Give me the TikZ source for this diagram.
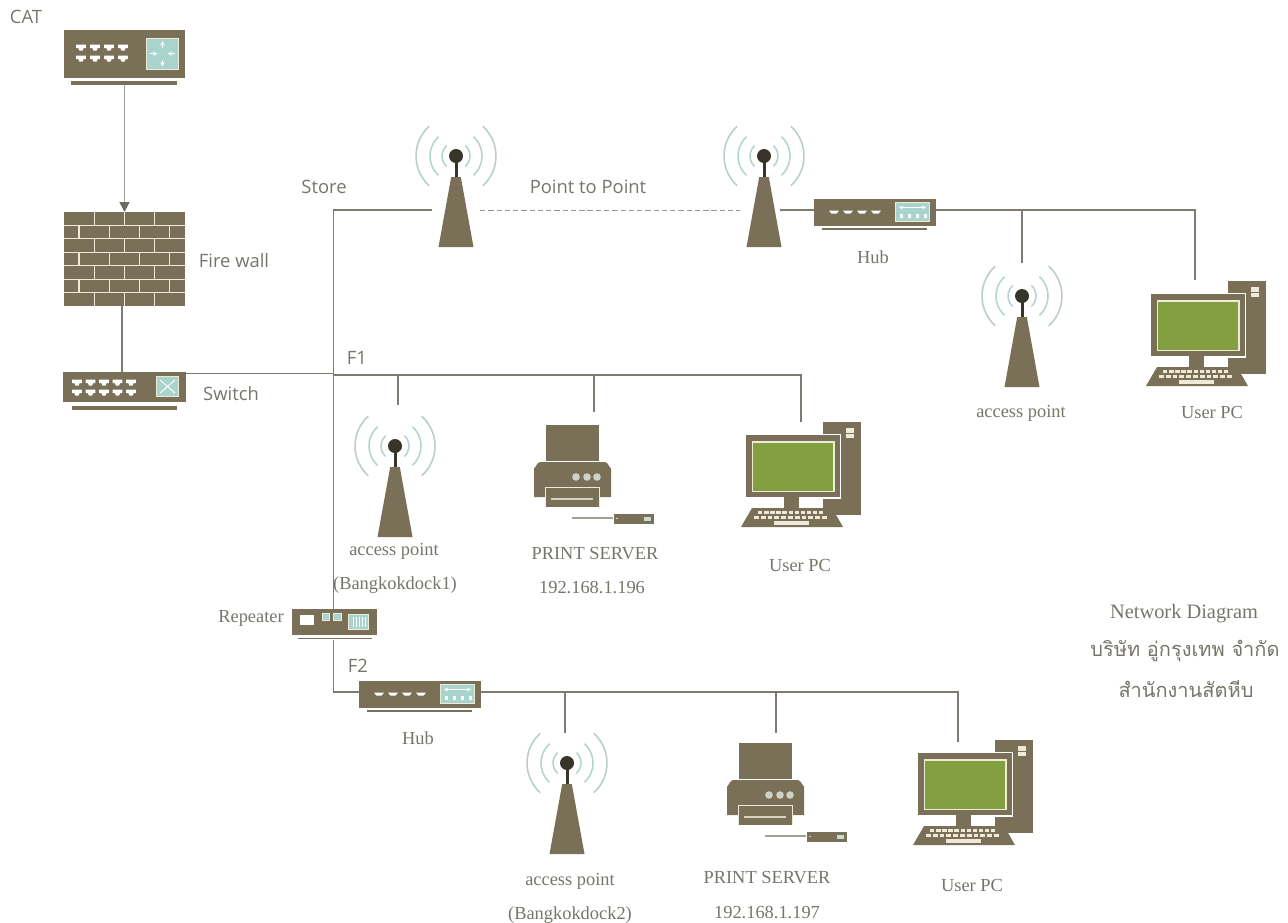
\documentclass[tikz,border=0pt]{standalone}
\usepackage{fontspec}
\usetikzlibrary{arrows.meta}
\setmainfont{Liberation Serif}
\newfontfamily\labelsans{Open Sans}
\newfontfamily\thaifont[Script=Thai]{Loma}
\definecolor{brownbox}{HTML}{7A6F57}
\definecolor{cream}{HTML}{EFE9DA}
\definecolor{tealbox}{HTML}{A9D3CD}
\definecolor{wire}{HTML}{7F7B70}
\definecolor{wirelight}{HTML}{A3A197}
\definecolor{ballblack}{HTML}{38342A}
\definecolor{waveouter}{HTML}{BCCDCB}
\definecolor{waveinner}{HTML}{B3D6D2}
\definecolor{screen}{HTML}{83A040}
\definecolor{txtgrey}{HTML}{77756B}
\newcommand{\portt}[2]{\fill[white] (#1-4.8,#2-3) -- (#1+4.8,#2-3) -- (#1+4.8,#2+.6) -- (#1+2.6,#2+.6) -- (#1+1.6,#2+3) -- (#1-1.6,#2+3) -- (#1-2.6,#2+.6) -- (#1-4.8,#2+.6) -- cycle;}
\newcommand{\portflat}[2]{\fill[white] (#1-5,#2-1.4) -- (#1+5,#2-1.4) -- (#1+2.6,#2+1.6) -- (#1-2.6,#2+1.6) -- cycle;}
\tikzset{
  x=.75pt,y=-.75pt,
  wireline/.style={draw=wire,line width=.9pt},
  arrowline/.style={draw=wirelight,line width=1pt,-{Triangle[length=7.5pt,width=7.5pt,color=wire!85!black]}},
  dashline/.style={draw=wire!80!white,line width=.7pt,dash pattern=on 4pt off 2.2pt},
  sanslabel/.style={font=\labelsans\fontsize{13.8}{15}\selectfont,text=txtgrey,inner sep=0pt,anchor=center,yshift=-.6pt},
  seriflabel/.style={font=\fontsize{13.8}{15}\selectfont,text=txtgrey,inner sep=0pt,anchor=center,yshift=-1.2pt},
  thailabel/.style={font=\thaifont\fontsize{15}{17}\selectfont,text=txtgrey,inner sep=0pt,anchor=center,yshift=-1.4pt},
  % origin: centre of the ball
  antenna/.pic={
    \fill[brownbox] (-4.8,21) -- (4.8,21) -- (17.5,91) -- (-17.5,91) -- cycle;
    \fill[ballblack] (-1.5,0) rectangle (1.5,21);
    \fill[ballblack] (0,0) circle (7);
    \foreach \r/\c/\w in {14/waveinner/1.2,26/waveinner/1.2,40/waveouter/1.2}{
      \draw[\c,line width=\w pt] (0,0) ++(-48:\r) arc[start angle=-48,end angle=48,radius=\r];
      \draw[\c,line width=\w pt] (0,0) ++(132:\r) arc[start angle=132,end angle=228,radius=\r];
    }
    \coordinate (-n) at (0,-34);
    \coordinate (-w) at (-24,54);
    \coordinate (-e) at (24,54);
    \coordinate (-out) at (16,54);
  },
  % origin: top-left of the box
  routerbox/.pic={
    \fill[brownbox] (0,0) rectangle (121,48);
    \fill[brownbox] (7,51) rectangle (113,54.5);
    \fill[cream] (82,8) rectangle (115,39.5);
    \fill[tealbox] (83,9) rectangle (114,38.5);
    \begin{scope}[line width=.8pt,draw=white,>={Stealth[length=3.4pt,width=3.4pt]}]
      \draw[white,->] (98.5,18) -- (98.5,11);
      \draw[white,->] (98.5,29.5) -- (98.5,36.5);
      \draw[white,->] (86,23.7) -- (93.5,23.7);
      \draw[white,->] (111,23.7) -- (103.5,23.7);
    \end{scope}
    \foreach \px in {17,31,45,59}{ \portt{\px}{17.5} \portt{\px}{28.5} }
    \coordinate (-s) at (60.5,54.5);
  },
  firewall/.pic={
    \fill[brownbox] (0,0) rectangle (121,94);
    \foreach \i in {1,...,6}{ \draw[cream,line width=.9pt] (0,13.43*\i) -- (121,13.43*\i); }
    \foreach \i in {0,2,4,6}{
      \foreach \vx in {30.25,60.5,90.75}{ \draw[cream,line width=.9pt] (\vx,13.43*\i) -- (\vx,13.43*\i+13.43); }
    }
    \foreach \i in {1,3,5}{
      \foreach \vx in {15,45.25,75.5,105.75}{ \draw[cream,line width=.9pt] (\vx,13.43*\i) -- (\vx,13.43*\i+13.43); }
    }
    \coordinate (-n) at (60.5,0);
    \coordinate (-s) at (58,94);
  },
  switchbox/.pic={
    \fill[brownbox] (0,0) rectangle (123,30);
    \fill[brownbox] (9,34) rectangle (114,38);
    \fill[cream] (93,4) rectangle (116,25);
    \fill[tealbox] (94,5) rectangle (115,24);
    \draw[white,line width=.7pt] (97,8) -- (112,21) (112,8) -- (97,21);
    \foreach \px in {14,27.5,41,54.5,68}{ \portt{\px}{10.5} \portt{\px}{20.5} }
    \coordinate (-n) at (59,0);
    \coordinate (-e) at (123,1.5);
  },
  hubbox/.pic={
    \fill[brownbox] (0,0) rectangle (122,27);
    \fill[brownbox] (8,29) rectangle (113,30.5);
    \fill[cream] (81,3) rectangle (116,23);
    \fill[tealbox] (82,4) rectangle (115,22);
    \draw[white,line width=.7pt,<->,>={Stealth[length=3pt,width=3pt]}] (85,8.5) -- (112,8.5);
    \foreach \dx in {87,95,103,111}{ \fill[white] (\dx-1.5,15) rectangle (\dx+1.5,19); }
    \foreach \px in {20,34,48,62}{ \portflat{\px}{13} }
    \coordinate (-w) at (0,11);
    \coordinate (-e) at (122,11);
  },
  repeaterbox/.pic={
    \fill[brownbox] (0,0) rectangle (85,25.5);
    \fill[brownbox] (6,28.5) rectangle (80,29.5);
    \fill[white] (8,6) rectangle (22,15.5);
    \fill[tealbox,draw=cream,line width=.5pt] (30,4) rectangle (37,11);
    \fill[tealbox,draw=cream,line width=.5pt] (41,4) rectangle (49,11);
    \fill[cream] (56,5) rectangle (77,20.5);
    \fill[tealbox] (57,6) rectangle (76,19.5);
    \foreach \dx in {61,64,67,70,73}{ \draw[white,line width=.3pt] (\dx,8) -- (\dx,18); }
    \coordinate (-n) at (41.5,0);
    \coordinate (-s) at (41.5,31);
  },
  % origin: top-left of the paper
  printer/.pic={
    \fill[brownbox] (0,0) rectangle (53,36);
    \fill[brownbox] (-12,43) to[out=-90,in=180] (-6,37) -- (59,37) to[out=0,in=-90] (65,43) -- (65,72) -- (-12,72) -- cycle;
    \fill[cream] (-1,62) rectangle (54,82);
    \fill[brownbox] (0,63) rectangle (53,82);
    \fill[cream!80!brownbox] (5,73) rectangle (47,75);
    \foreach \bx in {30,41,51}{ \fill[black!10!cream!80!tealbox] (\bx,52) circle (3.8); }
    \draw[wirelight,line width=.9pt] (26,93) -- (67,93);
    \fill[brownbox] (68,89) rectangle (108,99);
    \fill[tealbox!60!cream] (98,91.5) rectangle (105,96);
    \fill[white] (71,93.3) circle (.8);
  },
  % origin: top-left of the system unit
  computer/.pic={
    \fill[brownbox] (0,0) rectangle (38,93);
    \fill[cream] (23,6) rectangle (31,10.5);
    \fill[cream] (23,11.5) rectangle (31,16);
    \fill[white] (-78,12) rectangle (18,77);
    \fill[brownbox] (-77,13) rectangle (17,75);
    \fill[cream] (-71.5,19) rectangle (11.5,70);
    \fill[screen] (-70,20.5) rectangle (10,69);
    \fill[brownbox] (-39,75) rectangle (-24,86);
    \fill[brownbox] (-71,86) -- (9,86) -- (20,105) -- (-82,105) -- cycle;
    \foreach \k in {0,...,10}{
      \fill[cream] (-65+\k*6.1,89.3) rectangle ++(4.4,3);
      \fill[cream] (-69+\k*6.8,94) rectangle ++(4.8,3);
    }
    \fill[cream] (-49,99) rectangle (-14,102.5);
    \coordinate (-n) at (-22,0);
  },
}
\begin{document}
\begin{tikzpicture}
\useasboundingbox (0,0) rectangle (1288,922);
% devices
\pic (cat) at (64,30) {routerbox};
\pic (fw) at (64,212) {firewall};
\pic (sw) at (63,372) {switchbox};
\pic (rep) at (292,609) {repeaterbox};
\pic (huba) at (814,199) {hubbox};
\pic (hubb) at (359,681) {hubbox};
\pic (anta) at (456,156) {antenna};
\pic (antb) at (764,156) {antenna};
\pic (antc) at (1022,296) {antenna};
\pic (antd) at (395,446) {antenna};
\pic (ante) at (567,763) {antenna};
\pic (prta) at (546,425) {printer};
\pic (prtb) at (739,743) {printer};
\pic (pca) at (823,422) {computer};
\pic (pcb) at (1228,281) {computer};
\pic (pcc) at (995,740) {computer};
% junctions
\coordinate (storeCorner) at (333.5,210);
\coordinate (swJoin) at (333.5,375);
\coordinate (fOneA) at (398,375);
\coordinate (fOneB) at (594,375);
\coordinate (fOneC) at (801,375);
\coordinate (hubCornerA) at (1022,210);
\coordinate (hubCornerB) at (1195,210);
\coordinate (fTwoCorner) at (333.5,692);
\coordinate (fTwoA) at (565,692);
\coordinate (fTwoB) at (776,692);
\coordinate (fTwoC) at (958,692);
\coordinate (endA) at (398,405);
\coordinate (endB) at (594,412);
\coordinate (endC) at (801,422);
\coordinate (endD) at (1022,263);
\coordinate (endE) at (1195,280);
\coordinate (endF) at (565,733);
\coordinate (endG) at (776,733);
\coordinate (endH) at (958,742);
% connectors
\draw[arrowline] (cat-s) -- (fw-n);
\draw[wireline] (fw-s) -- (sw-n);
\draw[wireline] (sw-e) -- (swJoin |- sw-e);
\draw[wireline] (swJoin) -- (fOneC) -- (endC);
\draw[wireline] (fOneA) -- (endA);
\draw[wireline] (fOneB) -- (endB);
\draw[wireline] (rep-n) -- (storeCorner) -- (anta-w |- storeCorner);
\draw[dashline] (anta-e |- storeCorner) -- (antb-w |- storeCorner);
\draw[wireline] (antb-out |- storeCorner) -- (huba-w);
\draw[wireline] (huba-e) -- (hubCornerB) -- (endE);
\draw[wireline] (hubCornerA) -- (endD);
\draw[wireline] (rep-s) -- (fTwoCorner) -- (hubb-w);
\draw[wireline] (hubb-e) -- (fTwoC) -- (endH);
\draw[wireline] (fTwoA) -- (endF);
\draw[wireline] (fTwoB) -- (endG);
% labels
\node[sanslabel] (lcat) at (26,16) {CAT};
\node[sanslabel] (lfw) at (234,260) {Fire wall};
\node[sanslabel] (lsw) at (231,393) {Switch};
\node[sanslabel] (lstore) at (324,186) {Store};
\node[sanslabel] (lptp) at (588,186) {Point to Point};
\node[sanslabel] (lfa) at (357,357) {F1};
\node[sanslabel] (lfb) at (358,665) {F2};
\node[seriflabel] (lhuba) at (873,256) {Hub};
\node[seriflabel] (lapc) at (1021,412) {access point};
\node[seriflabel] (lpcb) at (1212,411) {User PC};
\node[seriflabel] (lapd) at (394,550) {access point};
\node[seriflabel] (lbka) at (395,583) {(Bangkokdock1)};
\node[seriflabel] (lpsa) at (595,552) {PRINT SERVER};
\node[seriflabel] (lipa) at (592,586) {192.168.1.196};
\node[seriflabel] (lpca) at (800,564) {User PC};
\node[seriflabel] (lrep) at (251,617) {Repeater};
\node[seriflabel] (lhubb) at (418,737) {Hub};
\node[seriflabel] (lape) at (570,880) {access point};
\node[seriflabel] (lbkb) at (570,913) {(Bangkokdock2)};
\node[seriflabel] (lpsb) at (767,876) {PRINT SERVER};
\node[seriflabel] (lipb) at (767,911) {192.168.1.197};
\node[seriflabel] (lpcc) at (972,884) {User PC};
\node[seriflabel,font=\fontsize{15.3}{17}\selectfont] (ltitle) at (1184,612) {Network Diagram};
\node[thailabel] (lco) at (1185,649) {บริษัท อู่กรุงเทพ จำกัด};
\node[thailabel] (lbr) at (1186,687) {สำนักงานสัตหีบ};
\end{tikzpicture}
\end{document}
